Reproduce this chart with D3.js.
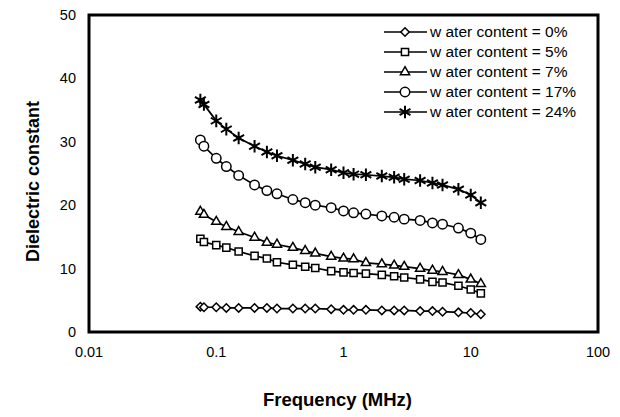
<!DOCTYPE html>
<html>
<head>
<meta charset="utf-8">
<script src="https://cdn.jsdelivr.net/npm/d3@7"></script>
<style>
  body { margin: 0; background: #fff; }
  text { font-family: "Liberation Sans", Arial, sans-serif; fill: #000; }
</style>
</head>
<body>
<script>
const width = 620;
const height = 417;

// frequencies in MHz
const freq = [0.075, 0.08, 0.1, 0.12, 0.15, 0.2, 0.25, 0.3, 0.4, 0.5, 0.6, 0.8,
  1, 1.2, 1.5, 2, 2.5, 3, 4, 5, 6, 8, 10, 12];

const water0 = [4.0, 3.9, 3.9, 3.8, 3.8, 3.8, 3.8, 3.7, 3.7, 3.7, 3.7, 3.6,
  3.5, 3.5, 3.5, 3.4, 3.4, 3.4, 3.3, 3.3, 3.2, 3.1, 3.0, 2.8];
const water5 = [14.7, 14.2, 13.7, 13.3, 12.7, 12.0, 11.6, 11.0, 10.6, 10.3, 10.1, 9.6,
  9.4, 9.3, 9.2, 9.0, 8.8, 8.6, 8.3, 7.9, 7.8, 7.3, 6.7, 6.1];
const water7 = [19.0, 18.5, 17.4, 16.6, 15.8, 14.9, 14.1, 13.8, 13.3, 12.8, 12.4, 11.9,
  11.6, 11.5, 10.9, 10.7, 10.5, 10.3, 10.0, 9.7, 9.5, 9.0, 8.3, 7.6];
const water17 = [30.3, 29.3, 27.4, 26.1, 24.7, 23.2, 22.3, 21.8, 20.9, 20.4, 20.0, 19.6,
  19.1, 18.8, 18.6, 18.3, 18.1, 17.8, 17.6, 17.2, 17.0, 16.4, 15.6, 14.6];
const water24 = [36.6, 35.9, 33.3, 32.0, 30.6, 29.3, 28.4, 27.8, 27.1, 26.5, 26.0, 25.6,
  25.1, 24.9, 24.8, 24.6, 24.4, 24.1, 23.9, 23.5, 23.2, 22.5, 21.6, 20.4];

const seriesNames = ["w ater content = 0%", "w ater content = 5%", "w ater content = 7%",
  "w ater content = 17%", "w ater content = 24%"];
const seriesValues = [water0, water5, water7, water17, water24];
const seriesMarkers = ["diamond", "square", "triangle", "circle", "star"];

const xTicks = [0.01, 0.1, 1, 10, 100];
const yTicks = [0, 10, 20, 30, 40, 50];

const margin = { left: 89, right: 22, top: 15, bottom: 85 };

const x = d3.scaleLog()
  .domain([0.01, 100])
  .range([margin.left, width - margin.right]);
const y = d3.scaleLinear()
  .domain([0, 50])
  .range([height - margin.bottom, margin.top]);

const svg = d3.select("body")
  .append("svg")
  .attr("width", width)
  .attr("height", height);

// markers
const symbolFor = {
  diamond: d3.symbol().type(d3.symbolDiamond2).size(45),
  square: d3.symbol().type(d3.symbolSquare2).size(65),
  triangle: d3.symbol().type(d3.symbolTriangle2).size(60),
  circle: d3.symbol().type(d3.symbolCircle).size(70),
  star: d3.symbol().type(d3.symbolAsterisk).size(110)
};

function drawMarker(g, kind, cx, cy) {
  const p = g.append("path")
    .attr("d", symbolFor[kind]())
    .attr("transform", `translate(${cx},${cy})`)
    .attr("stroke", "#000");
  if (kind === "star") {
    p.attr("fill", "none").attr("stroke-width", 2);
  } else {
    p.attr("fill", "#fff").attr("stroke-width", 1.5);
  }
}

// series
const line = d3.line()
  .x((d) => x(d[0]))
  .y((d) => y(d[1]));

seriesValues.forEach((vals, i) => {
  const pts = freq.map((f, j) => [f, vals[j]]);
  const g = svg.append("g");
  g.append("path")
    .datum(pts)
    .attr("d", line)
    .attr("fill", "none")
    .attr("stroke", "#000")
    .attr("stroke-width", 1.7);
  pts.forEach((d) => drawMarker(g, seriesMarkers[i], x(d[0]), y(d[1])));
});

// frame
svg.append("rect")
  .attr("x", x(0.01))
  .attr("y", y(50))
  .attr("width", x(100) - x(0.01))
  .attr("height", y(0) - y(50))
  .attr("fill", "none")
  .attr("stroke", "#000")
  .attr("stroke-width", 3);

// tick labels
svg.append("g")
  .selectAll("text")
  .data(yTicks)
  .enter()
  .append("text")
  .attr("x", 76)
  .attr("y", (d) => y(d))
  .attr("dy", "0.35em")
  .attr("text-anchor", "end")
  .attr("font-size", 14.5)
  .text((d) => d);

svg.append("g")
  .selectAll("text")
  .data(xTicks)
  .enter()
  .append("text")
  .attr("x", (d) => x(d))
  .attr("y", 352)
  .attr("dy", "0.35em")
  .attr("text-anchor", "middle")
  .attr("font-size", 14.5)
  .text((d) => d);

// axis titles
svg.append("text")
  .attr("x", (x(0.01) + x(100)) / 2 - 6)
  .attr("y", 400)
  .attr("dy", "0.35em")
  .attr("text-anchor", "middle")
  .attr("font-size", 18.5)
  .attr("font-weight", "bold")
  .text("Frequency (MHz)");

svg.append("text")
  .attr("transform", `translate(33,${(y(0) + y(50)) / 2 + 8}) rotate(-90)`)
  .attr("dy", "0.35em")
  .attr("text-anchor", "middle")
  .attr("font-size", 18)
  .attr("font-weight", "bold")
  .text("Dielectric constant");

// legend
const legend = svg.append("g");
seriesNames.forEach((name, i) => {
  const ly = 32 + i * 20;
  legend.append("line")
    .attr("x1", 384).attr("x2", 427)
    .attr("y1", ly).attr("y2", ly)
    .attr("stroke", "#000")
    .attr("stroke-width", 1.7);
  drawMarker(legend, seriesMarkers[i], 405, ly);
  legend.append("text")
    .attr("x", 430)
    .attr("y", ly)
    .attr("dy", "0.35em")
    .attr("font-size", 15.5)
    .text(name);
});
</script>
</body>
</html>
